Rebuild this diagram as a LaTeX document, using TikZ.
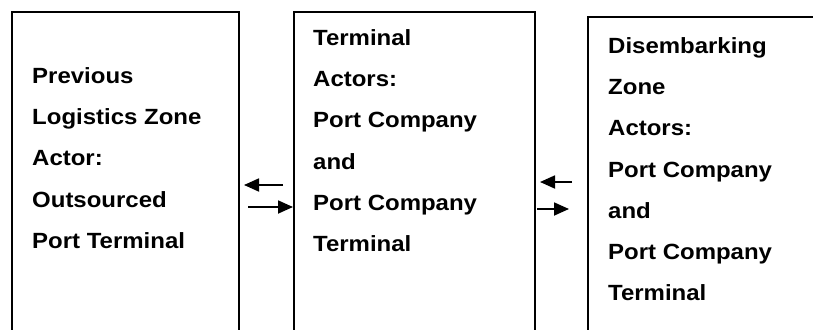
\documentclass[tikz,border=0pt]{standalone}
\usepackage{fontspec}
\setmainfont{Liberation Sans}[FakeStretch=1.09]
\usetikzlibrary{arrows.meta}

\begin{document}
\begin{tikzpicture}[x=1pt, y=-1pt,
    zone/.style={draw, line width=1.6pt, anchor=north west, minimum height=420pt, inner sep=0pt},
    zonetext/.style={anchor=north west, inner sep=0pt, align=left,
        font=\fontsize{22}{41.3}\selectfont\bfseries},
    flow/.style={line width=1.8pt, arrows={-Triangle[length=15pt, width=13pt]}}]

    \clip (0, 0) rectangle (813, 329);

    \path node (zprev) [zone, minimum width=227pt] at (11, 11) {};
    \path node (zterm) [zone, minimum width=241pt] at (293, 11) {};
    \path node (zdis) [zone, minimum width=300pt] at (587, 16) {};

    \path node (tprev) [zonetext] at (32, 67)
        {Previous\\Logistics Zone\\Actor:\\Outsourced\\Port Terminal};
    \path node (tterm) [zonetext] at (313, 29)
        {Terminal\\Actors:\\Port Company\\and\\Port Company\\Terminal};
    \path node (tdis) [zonetext] at (608, 37)
        {Disembarking\\Zone\\Actors:\\Port Company\\and\\Port Company\\Terminal};

    \coordinate (backA) at (283, 185);
    \coordinate (backAend) at (244, 185);
    \coordinate (fwdA) at (248, 207);
    \coordinate (backB) at (572, 182);
    \coordinate (backBend) at (540, 182);
    \coordinate (fwdB) at (537, 209);
    \coordinate (fwdBend) at (569, 209);

    \draw[flow] (backA) -- (backAend);
    \draw[flow] (fwdA) -- (fwdA -| zterm.west);
    \draw[flow] (backB) -- (backBend);
    \draw[flow] (fwdB) -- (fwdBend);

\end{tikzpicture}
\end{document}
